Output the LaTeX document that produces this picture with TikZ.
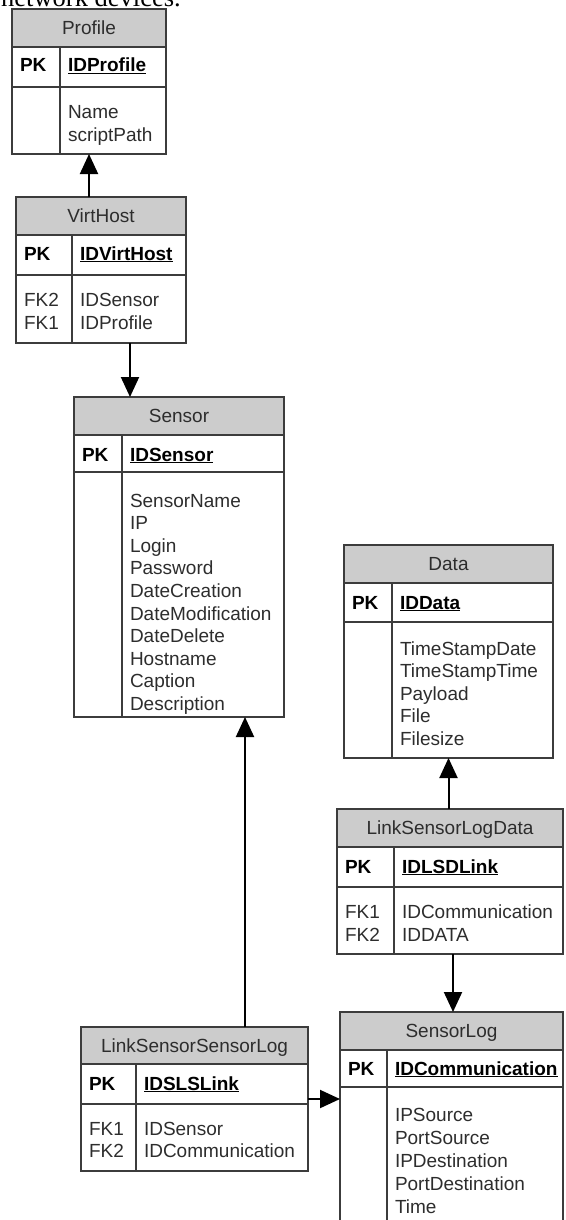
\documentclass[tikz,border=0pt]{standalone}
\usepackage{fontspec}
\setmainfont{Liberation Sans}
\newfontfamily\docserif{Liberation Serif}
\usetikzlibrary{arrows.meta}

\definecolor{hdrgray}{RGB}{204,204,204}
\definecolor{edge}{RGB}{60,60,60}
\definecolor{ink}{RGB}{45,45,45}

\tikzset{
  frame/.style={draw=edge, line width=1.6pt},
  hdrfill/.style={fill=hdrgray},
  txt/.style={inner sep=0pt, outer sep=0pt, text=ink, font=\fontsize{19}{22}\selectfont},
  keytxt/.style={txt, text=black, font=\fontsize{19}{22}\selectfont\bfseries},
  link/.style={draw=black, line width=2pt, -{Triangle[length=20pt,width=18pt]}},
  tbox/.style={inner sep=0pt, outer sep=0pt, anchor=north west},
}

% #1 name, #2 left, #3 top, #4 width, #5 height,
% #6 header height, #7 header+key height, #8 divider offset, #9 title
\newcommand\ertable[9]{%
  \node[tbox, minimum width=#4pt, minimum height=#5pt] (#1) at (#2,#3) {};
  \fill[hdrfill] (#1.north west) rectangle ([yshift=-#6pt]#1.north east);
  \draw[frame] (#1.north west) rectangle (#1.south east);
  \draw[frame] ([yshift=-#6pt]#1.north west) -- ([yshift=-#6pt]#1.north east);
  \draw[frame] ([yshift=-#7pt]#1.north west) -- ([yshift=-#7pt]#1.north east);
  \draw[frame] ([shift={(#8pt,-#6pt)}]#1.north west) -- ([xshift=#8pt]#1.south west);
  \node[txt, anchor=base] (#1-title) at ([yshift={-(#6/2+6.5)*1pt}]#1.north) {#9};
}

% #1 name, #2 x of left column, #3 x of right column, #4 baseline, #5 key
\newcommand\keyrow[5]{%
  \node[keytxt, anchor=base west] (#1-pk) at (#2,#4) {PK};
  \node[keytxt, anchor=base west] (#1-key) at (#3,#4) {\underline{#5}};
}

% #1 name, #2 x, #3 first baseline, #4 line step, #5 list of lines
\newcommand\fieldcol[5]{%
  \foreach \fld [count=\k from 0] in {#5}
    \node[txt, anchor=base west] (#1-\k) at (#2,{#3+\k*#4}) {\fld};
}

\begin{document}
\begin{tikzpicture}[x=1pt,y=-1pt]
\useasboundingbox (0,0) rectangle (565,1220);
\clip (0,0) rectangle (565,1220);

\node[anchor=base west, inner sep=0pt, font=\docserif\fontsize{26.5}{30}\selectfont]
  (caption) at (1,7) {network devices.};

% Profile
\ertable{profile}{12}{9}{154}{145}{38}{78}{48}{Profile}
\keyrow{profile}{20}{68}{72}{IDProfile}
\fieldcol{profile-f}{68}{119}{23}{Name,scriptPath}

% VirtHost
\ertable{virthost}{16}{197}{170}{146}{38}{78}{56}{VirtHost}
\keyrow{virthost}{24}{80}{260}{IDVirtHost}
\fieldcol{virthost-fk}{24}{306}{23}{FK2,FK1}
\fieldcol{virthost-f}{80}{306}{23}{IDSensor,IDProfile}

% Sensor
\ertable{sensor}{74}{397}{210}{320}{38}{75}{48}{Sensor}
\keyrow{sensor}{82}{130}{461}{IDSensor}
\fieldcol{sensor-f}{130}{507}{22.6}{SensorName,IP,Login,Password,DateCreation,DateModification,DateDelete,Hostname,Caption,Description}

% Data
\ertable{data}{344}{545}{209}{213}{38}{77}{48}{Data}
\keyrow{data}{352}{400}{609}{IDData}
\fieldcol{data-f}{400}{655}{22.6}{TimeStampDate,TimeStampTime,Payload,File,Filesize}

% LinkSensorLogData
\ertable{lsld}{337}{809}{226}{145}{38}{78}{57}{LinkSensorLogData}
\keyrow{lsld}{345}{402}{873}{IDLSDLink}
\fieldcol{lsld-fk}{345}{918}{23}{FK1,FK2}
\fieldcol{lsld-f}{402}{918}{23}{IDCommunication,IDDATA}

% SensorLog
\ertable{sensorlog}{340}{1012}{223}{260}{38}{75}{47}{SensorLog}
\keyrow{sensorlog}{348}{395}{1075}{IDCommunication}
\fieldcol{sensorlog-f}{395}{1121}{23}{IPSource,PortSource,IPDestination,PortDestination,Time}

% LinkSensorSensorLog
\ertable{lssl}{81}{1027}{227}{144}{37}{77}{55}{LinkSensorSensorLog}
\keyrow{lssl}{89}{144}{1090}{IDSLSLink}
\fieldcol{lssl-fk}{89}{1135}{22.5}{FK1,FK2}
\fieldcol{lssl-f}{144}{1135}{22.5}{IDSensor,IDCommunication}

% relationships
\draw[link] (virthost.north -| profile.south) -- (profile.south);
\draw[link] ([xshift=56pt]sensor.north west |- virthost.south) -- ([xshift=56pt]sensor.north west);
\draw[link] ([xshift=-39pt]sensor.south east |- lssl.north) -- ([xshift=-39pt]sensor.south east);
\draw[link] (lssl.east) -- (lssl.east -| sensorlog.west);
\draw[link] (lsld.north -| data.south) -- (data.south);
\draw[link] ([xshift=3pt]lsld.south) -- ([xshift=3pt]lsld.south |- sensorlog.north);
\end{tikzpicture}
\end{document}
